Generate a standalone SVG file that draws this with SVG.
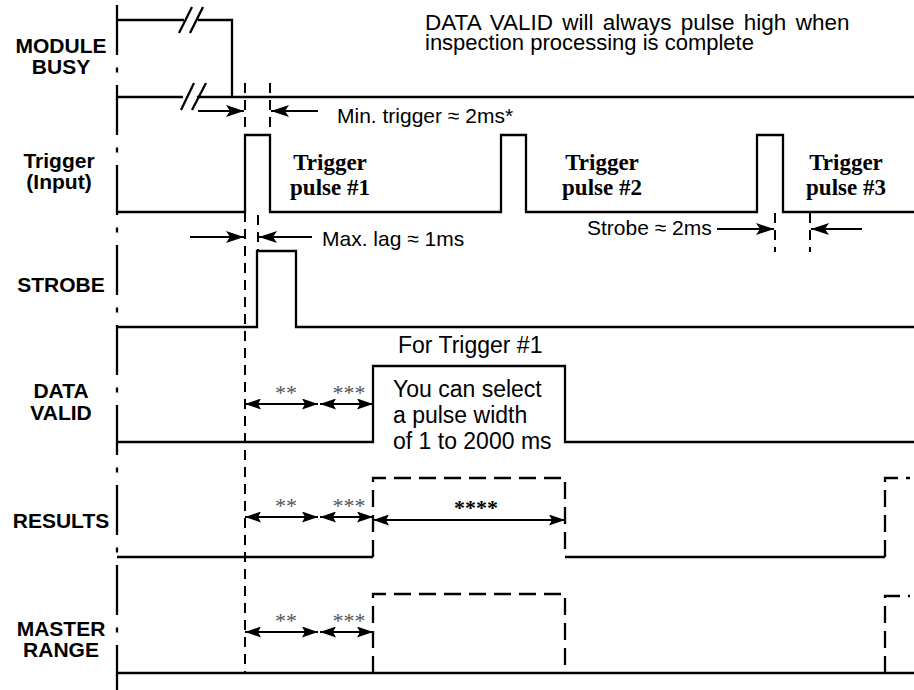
<svg xmlns="http://www.w3.org/2000/svg" width="914" height="690" viewBox="0 0 914 690">
<defs>
<style>
.sig{fill:none;stroke:#000;stroke-width:2.3}
.dsig{fill:none;stroke:#000;stroke-width:2.3;stroke-dasharray:17 8}
.guide{fill:none;stroke:#000;stroke-width:2;stroke-dasharray:10 7}
.axis{fill:none;stroke:#000;stroke-width:2.3;stroke-dasharray:50 12.5 5 12.5}
.arr{fill:none;stroke:#000;stroke-width:2}
.lbl{font-family:"Liberation Sans",Arial,sans-serif;font-weight:bold;font-size:21px;text-anchor:middle;fill:#000}
.note{font-family:"Liberation Sans",Arial,sans-serif;font-size:23px;fill:#000}
.small{font-family:"Liberation Sans",Arial,sans-serif;font-size:21px;fill:#000}
.ser{font-family:"Liberation Serif","Times New Roman",serif;font-weight:bold;font-size:23px;text-anchor:middle;fill:#000}
.ast{font-family:"Liberation Serif","Times New Roman",serif;font-size:22px;fill:#555;text-anchor:middle}
.astb{font-family:"Liberation Serif","Times New Roman",serif;font-weight:bold;font-size:22px;fill:#000;text-anchor:middle}
</style>
<marker id="ah" markerUnits="userSpaceOnUse" markerWidth="18" markerHeight="12" refX="18" refY="6" orient="auto-start-reverse" viewBox="0 0 18 12"><path d="M0,0 L18,6 L0,12 L4,6 z" fill="#000"/></marker>
<marker id="sh" markerUnits="userSpaceOnUse" markerWidth="16" markerHeight="11" refX="16" refY="5.5" orient="auto-start-reverse" viewBox="0 0 16 11"><path d="M0,0 L16,5.5 L0,11 L3,5.5 z" fill="#000"/></marker>
</defs>

<g id="axis"><line class="axis" x1="117" y1="5" x2="117" y2="690"/></g>

<g id="labels">
<text class="lbl" x="61" y="53">MODULE</text>
<text class="lbl" x="61" y="74">BUSY</text>
<text class="lbl" x="59" y="168">Trigger</text>
<text class="lbl" x="59" y="189">(Input)</text>
<text class="lbl" x="61" y="292">STROBE</text>
<text class="lbl" x="61" y="398">DATA</text>
<text class="lbl" x="61" y="420">VALID</text>
<text class="lbl" x="61" y="528">RESULTS</text>
<text class="lbl" x="61" y="636">MASTER</text>
<text class="lbl" x="61" y="657">RANGE</text>
</g>

<g id="module-busy">
<path class="sig" d="M117,20 H184 M198,20 H232 V97 M117,97 H183 M197,97 H914"/>
<path class="sig" d="M179,33 L192,7 M190,33 L203,7 M181,110 L194,83 M192,110 L206,83"/>
</g>

<g id="trigger">
<path class="sig" d="M117,212 H245 V135 H270 V212 H501 V135 H526 V212 H757 V135 H783 V212 H914"/>
<text class="ser" x="330" y="170">Trigger</text>
<text class="ser" x="330" y="195">pulse #1</text>
<text class="ser" x="602" y="170">Trigger</text>
<text class="ser" x="602" y="195">pulse #2</text>
<text class="ser" x="846" y="170">Trigger</text>
<text class="ser" x="846" y="195">pulse #3</text>
</g>

<g id="strobe">
<path class="sig" d="M117,327 H257 V251 H296 V327 H914"/>
</g>

<g id="data-valid">
<path class="sig" d="M117,442 H373 V366 H565 V442 H914"/>
<text class="note" x="398" y="353">For Trigger #1</text>
<text class="note" x="393" y="397">You can select</text>
<text class="note" x="393" y="423">a pulse width</text>
<text class="note" x="393" y="449">of 1 to 2000 ms</text>
</g>

<g id="results">
<path class="sig" d="M117,557 H373 M565,557 H885"/>
<path class="dsig" d="M373,557 V478 H565 V557 M885,557 V478 H910"/>
</g>

<g id="master-range">
<path class="sig" d="M117,673 H914"/>
<path class="dsig" d="M373,673 V594 H565 V673 M885,673 V596 H910"/>
</g>

<g id="notes">
<text class="note" x="425" y="30" style="font-size:22.5px;word-spacing:3px">DATA VALID will always pulse high when</text>
<text class="note" x="425" y="50" style="font-size:22px">inspection processing is complete</text>
<text class="small" x="337" y="123">Min. trigger ≈ 2ms*</text>
<text class="small" x="322" y="246">Max. lag ≈ 1ms</text>
<text class="small" x="587" y="235">Strobe ≈ 2ms</text>
</g>

<g id="connectors">
<path class="guide" d="M245,83 V135 M245,212 V673 M270,83 V135 M258,215 V251 M775,213 V252 M810,213 V252"/>
<path class="arr" marker-end="url(#ah)" d="M198,111 H244"/>
<path class="arr" marker-end="url(#ah)" d="M318,111 H271"/>
<path class="arr" marker-end="url(#ah)" d="M190,237 H244"/>
<path class="arr" marker-end="url(#ah)" d="M312,237 H259"/>
<path class="arr" marker-end="url(#ah)" d="M717,229 H774"/>
<path class="arr" marker-end="url(#ah)" d="M862,229 H811"/>
<path class="arr" marker-start="url(#sh)" marker-end="url(#sh)" d="M245,404 H318"/>
<path class="arr" marker-start="url(#sh)" marker-end="url(#sh)" d="M320,404 H373"/>
<path class="arr" marker-start="url(#sh)" marker-end="url(#sh)" d="M245,517 H318"/>
<path class="arr" marker-start="url(#sh)" marker-end="url(#sh)" d="M320,517 H373"/>
<path class="arr" marker-start="url(#sh)" marker-end="url(#sh)" d="M373,520 H565"/>
<path class="arr" marker-start="url(#sh)" marker-end="url(#sh)" d="M245,632 H318"/>
<path class="arr" marker-start="url(#sh)" marker-end="url(#sh)" d="M320,632 H373"/>
</g>

<g id="asterisks">
<text class="ast" x="286" y="400">**</text>
<text class="ast" x="349" y="400">***</text>
<text class="ast" x="286" y="513">**</text>
<text class="ast" x="349" y="513">***</text>
<text class="astb" x="476" y="515">****</text>
<text class="ast" x="286" y="628">**</text>
<text class="ast" x="349" y="628">***</text>
</g>
</svg>
